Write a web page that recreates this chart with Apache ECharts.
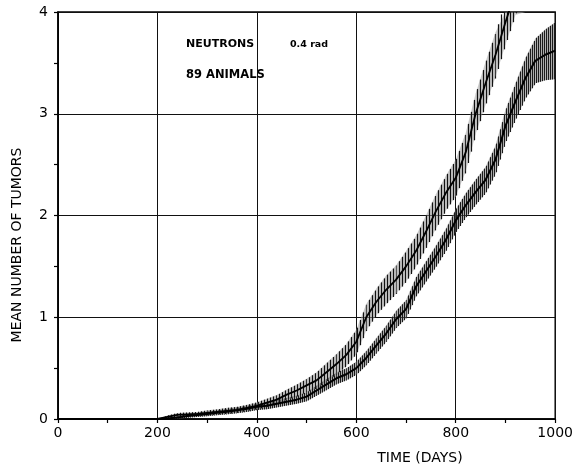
<!DOCTYPE html>
<html><head><meta charset="utf-8">
<script src="https://cdn.jsdelivr.net/npm/echarts@6/dist/echarts.min.js"></script>
<style>html,body{margin:0;padding:0;background:#fff}#c{width:576px;height:467px}</style>
</head><body><div id="c"></div>
<script>
// Axis settings
const xMin = 0, xMax = 1000, xStep = 200;
const yMin = 0, yMax = 4, yStep = 1;
const xTitle = 'TIME (DAYS)';
const yTitle = 'MEAN NUMBER OF TUMORS';
const noteLine1 = 'NEUTRONS';
const noteDose = '0.4 rad';
const noteLine2 = '89 ANIMALS';

// Upper curve (vertical error bars)
const daysA = [0,200,220,240,260,280,300,320,340,360,380,400,420,440,460,480,500,520,540,560,580,600,620,640,660,680,700,720,740,760,780,800,820,840,860,880,900,920,940];
const meanA = [0,0,0.02,0.04,0.045,0.05,0.06,0.07,0.08,0.09,0.11,0.13,0.16,0.19,0.24,0.28,0.33,0.38,0.46,0.54,0.63,0.76,1.0,1.15,1.27,1.37,1.5,1.65,1.84,2.04,2.22,2.37,2.62,3.0,3.3,3.58,3.9,4.2,4.5];
const errA  = [0,0,0.015,0.02,0.02,0.02,0.025,0.025,0.03,0.03,0.03,0.035,0.04,0.045,0.05,0.06,0.065,0.08,0.09,0.1,0.11,0.12,0.13,0.13,0.14,0.14,0.15,0.15,0.16,0.17,0.17,0.18,0.19,0.2,0.21,0.22,0.22,0.23,0.24];

// Lower curve (dense hatched band)
const daysB = [0,200,220,240,260,280,300,320,340,360,380,400,420,440,460,480,500,520,540,560,580,600,620,640,660,680,700,720,740,760,780,800,820,840,860,880,900,920,940,960,980,1000];
const meanB = [0,0,0.005,0.015,0.03,0.04,0.05,0.062,0.072,0.085,0.1,0.12,0.13,0.15,0.17,0.19,0.22,0.28,0.34,0.4,0.44,0.5,0.6,0.72,0.84,0.98,1.08,1.3,1.45,1.6,1.76,1.95,2.1,2.23,2.35,2.55,2.88,3.12,3.35,3.52,3.58,3.62];
const errB  = [0,0,0.012,0.015,0.018,0.02,0.022,0.024,0.026,0.028,0.03,0.032,0.034,0.036,0.038,0.04,0.045,0.05,0.055,0.058,0.06,0.065,0.07,0.075,0.08,0.085,0.09,0.095,0.1,0.105,0.11,0.115,0.12,0.125,0.13,0.14,0.16,0.18,0.2,0.22,0.25,0.28];

function bandSeries(days, mean, err, step, color, width, fill) {
  return {
    type: 'custom', coordinateSystem: 'cartesian2d', silent: true, z: 2,
    data: days.map((d, i) => [d, mean[i], err[i]]),
    encode: { x: 0, y: 1 },
    renderItem(params, api) {
      const i = params.dataIndex;
      if (i >= days.length - 1) return null;
      const cs = params.coordSys;
      const top = cs.y, bot = cs.y + cs.height;
      const e0 = err[i], e1 = err[i + 1];
      if (e0 === 0 && e1 === 0) return null;
      const x0 = api.coord([days[i], 0])[0], x1 = api.coord([days[i + 1], 0])[0];
      const yv = v => Math.min(bot, Math.max(top, api.coord([days[i], v])[1]));
      const children = [];
      if (fill) {
        children.push({ type: 'polygon', shape: { points: [
          [x0, yv(mean[i] + e0)], [x1, yv(mean[i + 1] + e1)],
          [x1, yv(mean[i + 1] - e1)], [x0, yv(mean[i] - e0)]] },
          style: { fill: fill } });
      }
      let px = Math.ceil(x0 / step) * step;
      for (; px < x1; px += step) {
        const t = (px - x0) / (x1 - x0);
        const m = mean[i] + t * (mean[i + 1] - mean[i]);
        const e = e0 + t * (e1 - e0);
        const yHi = yv(m + e), yLo = yv(m - e);
        if (yLo - yHi < 0.5) continue;
        children.push({ type: 'line', shape: { x1: px + 0.5, y1: yLo, x2: px + 0.5, y2: yHi },
          style: { stroke: color, lineWidth: width } });
      }
      return { type: 'group', children };
    }
  };
}

const chart = echarts.init(document.getElementById('c'), null, { renderer: 'canvas' });
const axisCommon = {
  type: 'value',
  axisLine: { show: true, onZero: false, lineStyle: { color: '#000', width: 1.6 } },
  axisTick: { show: true, length: 4, lineStyle: { color: '#000', width: 1.2 } },
  minorTick: { show: true, splitNumber: 2, length: 4, lineStyle: { color: '#000', width: 1.2 } },
  splitLine: { show: true, lineStyle: { color: '#111', width: 1 } },
  axisLabel: { color: '#000', fontSize: 14, fontFamily: 'DejaVu Sans', formatter: v => String(v) }
};
chart.setOption({
  animation: false,
  backgroundColor: '#fff',
  grid: { left: 58, right: 19, top: 12, bottom: 48, show: true, borderColor: '#000', borderWidth: 1.4 },
  xAxis: Object.assign({}, axisCommon, { min: xMin, max: xMax, interval: xStep,
    axisLabel: Object.assign({}, axisCommon.axisLabel, { margin: 7 }) }),
  yAxis: Object.assign({}, axisCommon, { min: yMin, max: yMax, interval: yStep,
    axisLabel: Object.assign({}, axisCommon.axisLabel, { margin: 10 }) }),
  series: [
    bandSeries(daysB, meanB, errB, 2, '#1a1a1a', 1.1, 'rgba(120,120,120,0.5)'),
    bandSeries(daysA, meanA, errA, 3, '#111', 1.2, 'rgba(160,160,160,0.55)'),
    { type: 'line', data: daysB.map((d, i) => [d, meanB[i]]), showSymbol: false, clip: true, z: 5,
      lineStyle: { color: '#000', width: 2 } },
    { type: 'line', data: daysA.map((d, i) => [d, meanA[i]]), showSymbol: false, clip: true, z: 5,
      lineStyle: { color: '#000', width: 1.8 } }
  ],
  graphic: [
    { type: 'text', left: 186, top: 39, style: { text: noteLine1, font: 'bold 11px "DejaVu Sans"', fill: '#000' } },
    { type: 'text', left: 290, top: 40, style: { text: noteDose, font: 'bold 9.5px "DejaVu Sans"', fill: '#000' } },
    { type: 'text', left: 186, top: 69, style: { text: noteLine2, font: 'bold 11.5px "DejaVu Sans"', fill: '#000' } },
    { type: 'text', x: 420, y: 458, style: { text: xTitle, font: '14px "DejaVu Sans"', fill: '#000', align: 'center', verticalAlign: 'middle' } },
    { type: 'text', x: 17, y: 245, rotation: Math.PI / 2, style: { text: yTitle, font: '14px "DejaVu Sans"', fill: '#000', align: 'center', verticalAlign: 'middle' } }
  ]
});
</script>
</body></html>
